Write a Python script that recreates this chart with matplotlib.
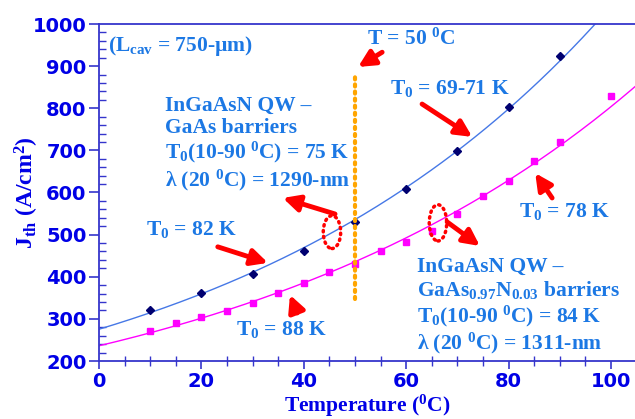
import numpy as np
import matplotlib
matplotlib.use("Agg")
import matplotlib.pyplot as plt
from matplotlib.patches import Ellipse
from matplotlib.ticker import MultipleLocator

# DATA
# =======================================

# GaAs barriers (blue diamonds)
temp_gaas = [10, 20, 30, 40, 50, 60, 70, 80, 90]
jth_gaas = [321, 362, 407, 460, 529, 608, 699, 804, 924]

# GaAsN barriers (pink squares)
temp_gaasn = [10, 15, 20, 25, 30, 35, 40, 45, 50, 55, 60, 65, 70, 75, 80, 85, 90, 100]
jth_gaasn = [271, 290, 305, 319, 338, 362, 384, 411, 430, 460, 483, 509, 549, 592,
             627, 675, 721, 828]

x_ticks = [0, 20, 40, 60, 80, 100]
y_ticks = [200, 300, 400, 500, 600, 700, 800, 900, 1000]

# STYLE
# =======================================

plt.rcParams['mathtext.fontset'] = 'custom'
plt.rcParams['mathtext.rm'] = 'Liberation Serif:bold'
plt.rcParams['mathtext.bf'] = 'Liberation Serif:bold'
plt.rcParams['mathtext.default'] = 'bf'

axis_blue = '#0000e6'
spine_blue = '#3535cc'
note_blue = '#1c78e4'
serif = 'Liberation Serif'

fig = plt.figure(figsize=(6.35, 4.19), dpi=100)
ax = fig.add_axes([99 / 635, 1 - 361 / 419, 537.6 / 635, 337 / 419])

# Exponential trend lines fitted to the points
t_fit = np.linspace(0, 105, 200)
for xs, ys, col in [(temp_gaas, jth_gaas, '#4678e6'), (temp_gaasn, jth_gaasn, '#ff00ff')]:
    k, b = np.polyfit(xs, np.log(ys), 1)
    ax.plot(t_fit, np.exp(b + k * t_fit), color=col, lw=1)

ax.plot(temp_gaas, jth_gaas, linestyle='none', marker='D', markersize=4.5, color='#000070')
ax.plot(temp_gaasn, jth_gaasn, linestyle='none', marker='s', markersize=5, color='#ff00ff')

# T = 50 C marker line
ax.plot([50, 50], [346, 880], color='#ffa500', lw=3, linestyle=(0, (0.5, 1.2)),
        dash_capstyle='round', zorder=5)

# Dotted ellipses
for cx, cy, h in [(45.5, 506, 78), (66.2, 528, 86)]:
    ax.add_patch(Ellipse((cx, cy), 3.4, h, fill=False, edgecolor='red', lw=2.5,
                         linestyle=(0, (0.4, 1.3)), capstyle='round', zorder=6))

# Axes
ax.set_xlim(0, 105)
ax.set_ylim(200, 1000)
ax.set_xticks(x_ticks)
ax.set_yticks(y_ticks)
ax.xaxis.set_minor_locator(MultipleLocator(5))
ax.yaxis.set_minor_locator(MultipleLocator(20))
ax.spines['right'].set_visible(False)
for s in ['left', 'top', 'bottom']:
    ax.spines[s].set_color(spine_blue)
    ax.spines[s].set_linewidth(1.3)
ax.tick_params(axis='x', which='major', direction='out', length=6, width=1.2, color=spine_blue, pad=2)
ax.tick_params(axis='x', which='minor', direction='inout', length=7, width=1, color=spine_blue)
ax.tick_params(axis='y', which='major', direction='out', length=7, width=1.2, color=spine_blue, pad=2)
ax.tick_params(axis='y', which='minor', direction='in', length=5, width=1, color=spine_blue)
ax.tick_params(which='both', top=False, right=False)
for lab in ax.get_xticklabels() + ax.get_yticklabels():
    lab.set_fontweight('bold')
    lab.set_fontsize(14)
    lab.set_color(axis_blue)
    lab.set_family('DejaVu Sans')

ax.set_xlabel(r'Temperature ($^{0}$C)', family=serif, fontweight='bold', fontsize=15.5,
              color=axis_blue, va='center')
ax.set_ylabel(r'J$_{th}$ (A/cm$^{2}$)', family=serif, fontweight='bold', fontsize=17,
              color=axis_blue, va='center')
ax.xaxis.set_label_coords(0.4985, -0.134)
ax.yaxis.set_label_coords(-0.134, 0.5)

# Annotations
txt = dict(family=serif, fontweight='bold', fontsize=15.5, color=note_blue)
ax.text(1.8, 948, r'(L$_{cav}$ = 750-µm)', va='center', ha='left', **txt)
ax.text(12.9, 829, 'InGaAsN QW –\nGaAs barriers\n'
        r'T$_{0}$(10-90 $^{0}$C) = 75 K' '\n' r'λ (20 $^{0}$C) = 1290-nm',
        va='top', ha='left', linespacing=1.12, **txt)
ax.text(62.1, 446, 'InGaAsN QW –\n' r'GaAs$_{0.97}$N$_{0.03}$ barriers' '\n'
        r'T$_{0}$(10-90 $^{0}$C) = 84 K' '\n' r'λ (20 $^{0}$C) = 1311-nm',
        va='top', ha='left', linespacing=1.12, **txt)
ax.text(60.9, 964, r'T = 50 $^{0}$C', ha='center', va='center', **txt)
ax.text(68.6, 848, r'T$_{0}$ = 69-71 K', ha='center', va='center', **txt)
ax.text(18.0, 511, r'T$_{0}$ = 82 K', ha='center', va='center', **txt)
ax.text(35.7, 274, r'T$_{0}$ = 88 K', ha='center', va='center', **txt)
ax.text(91.0, 556, r'T$_{0}$ = 78 K', ha='center', va='center', **txt)

# Red arrows (tail -> head)
arrows = [((55.3, 933), (50.6, 898)), ((63.1, 810), (72.9, 732)), ((23.2, 471), (33.0, 433)),
          ((38.7, 314), (37.3, 357)), ((88.5, 587), (85.2, 646)), ((46.1, 549), (35.9, 587)),
          ((68.0, 530), (74.4, 473))]
for tail, head in arrows:
    ax.annotate('', xy=head, xytext=tail,
                arrowprops=dict(arrowstyle='-|>,head_length=0.7,head_width=0.35', color='red',
                                lw=3.5, shrinkA=0, shrinkB=0, mutation_scale=14))

fig.savefig('out.png', dpi=100)
